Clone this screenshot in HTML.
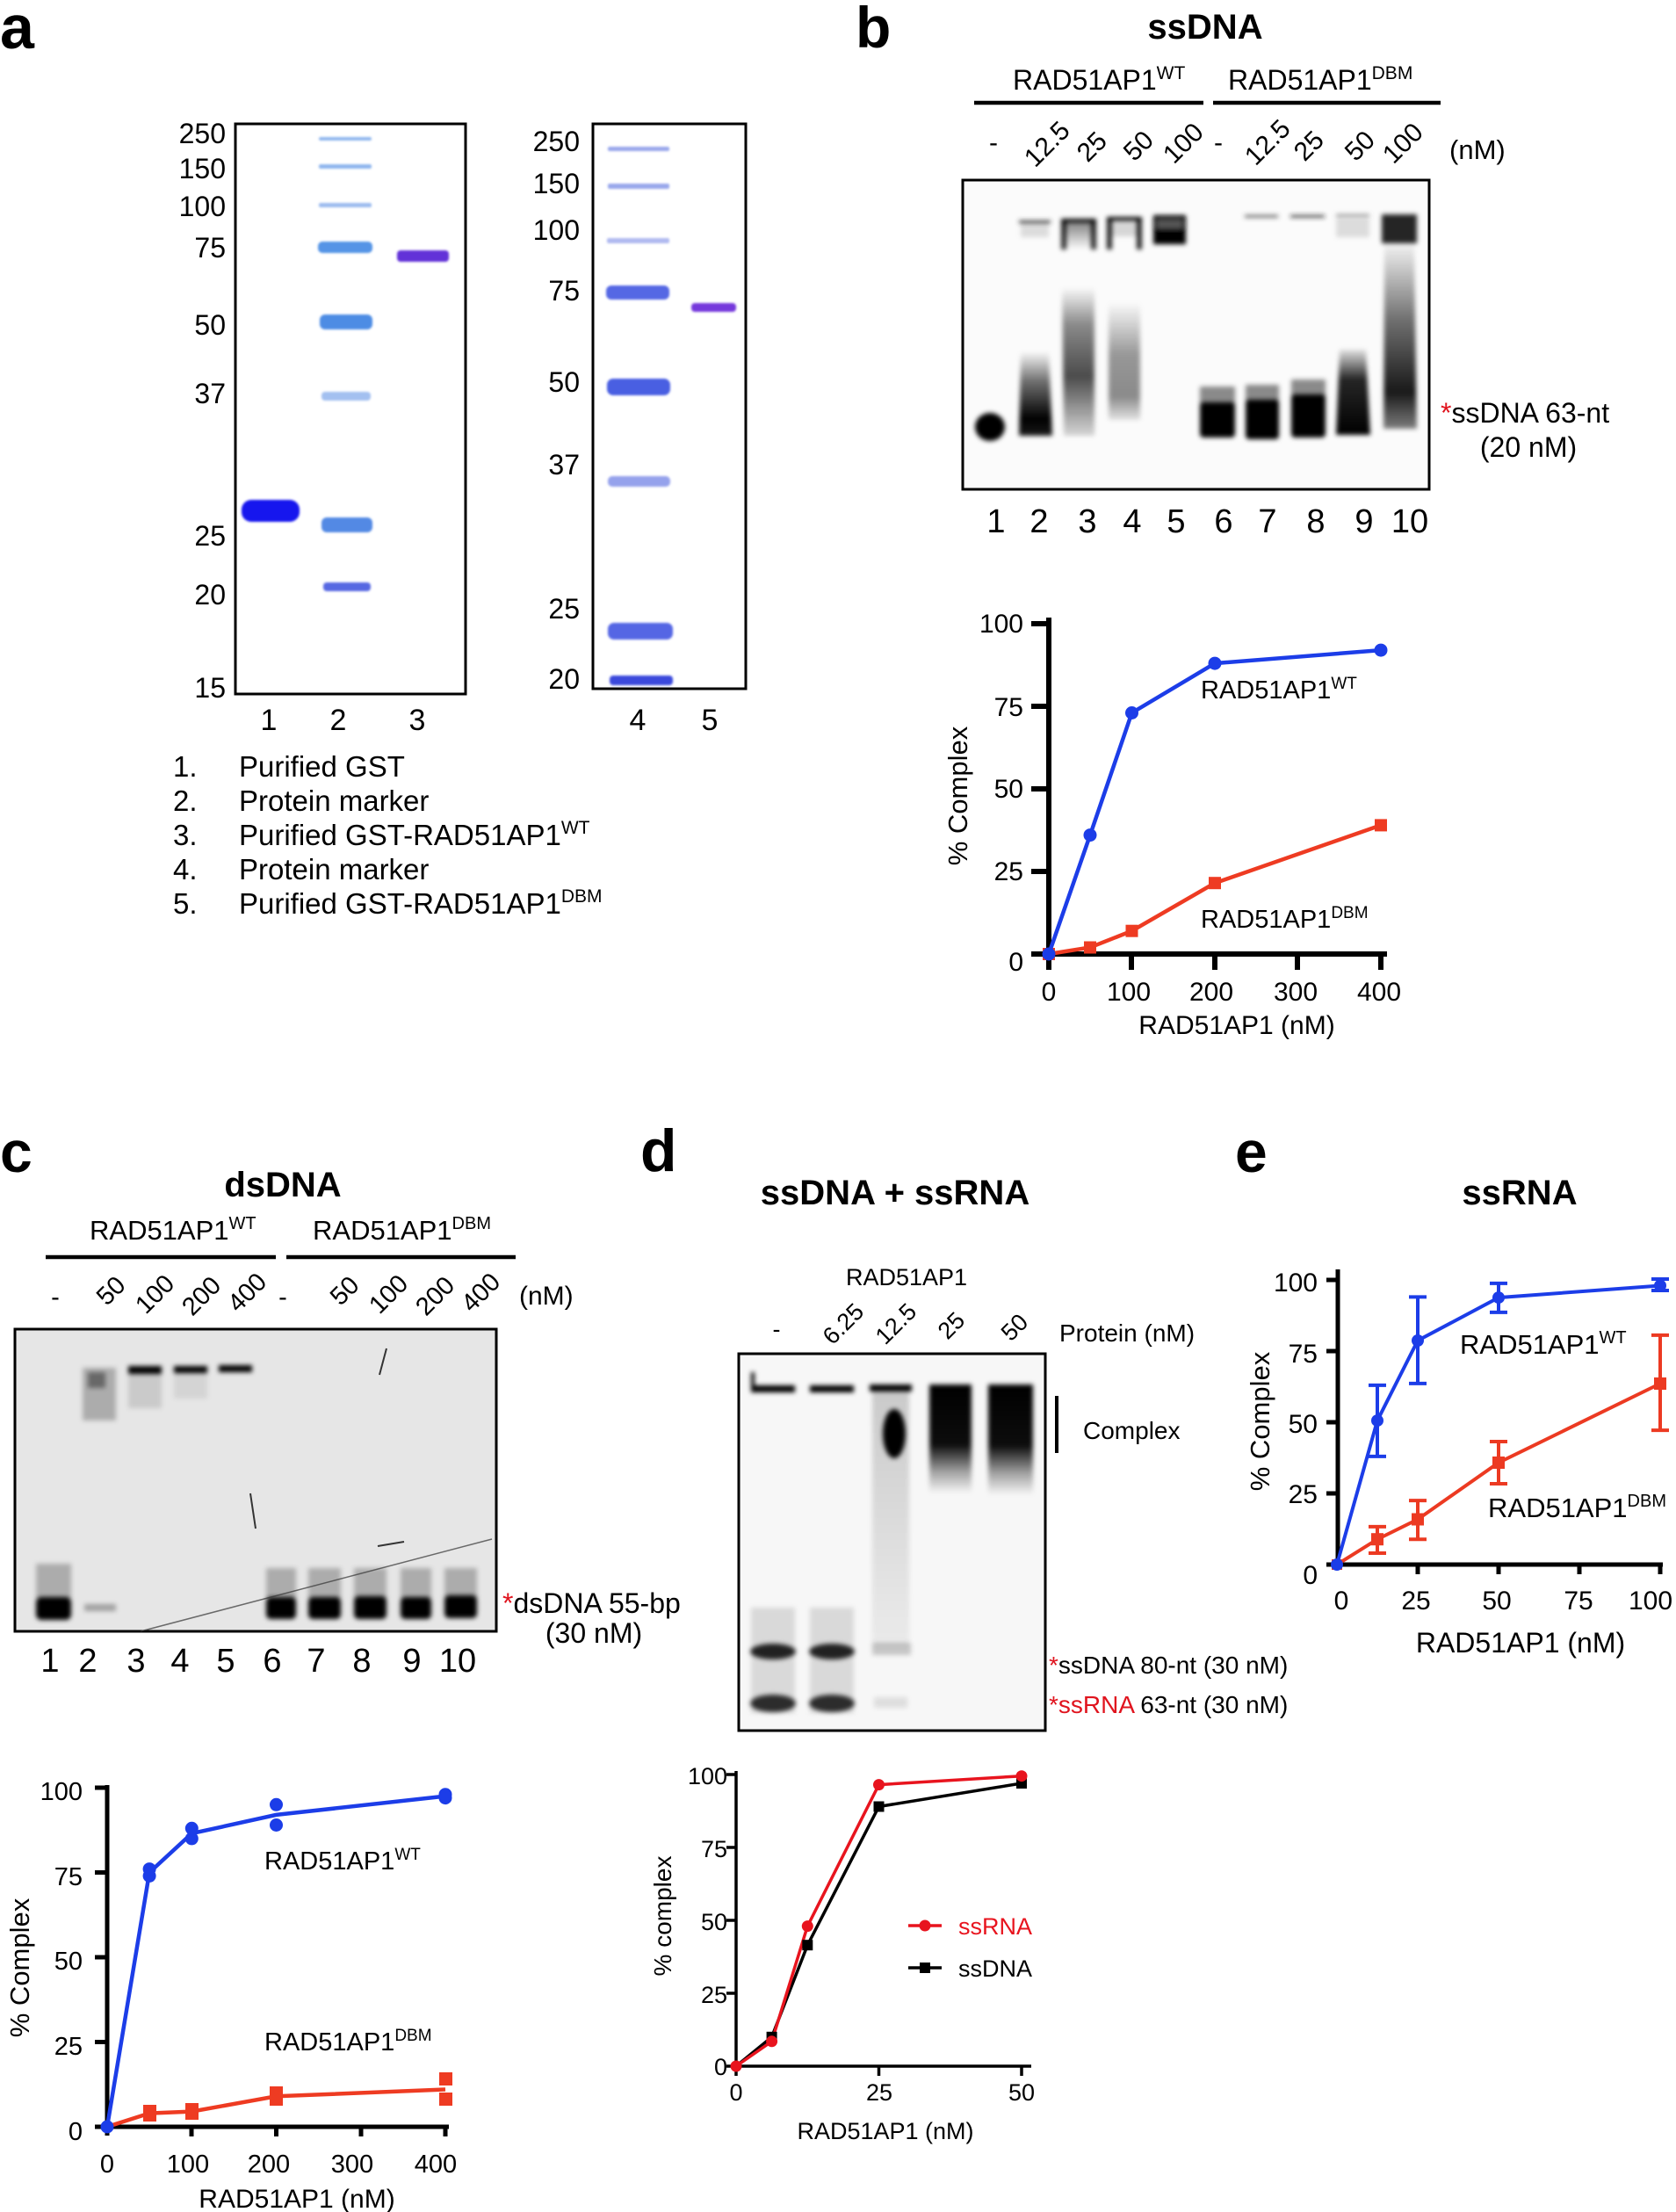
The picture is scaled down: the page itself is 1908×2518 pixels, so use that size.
<!DOCTYPE html>
<html><head><meta charset="utf-8">
<style>
html,body{margin:0;padding:0;background:#fff;}
svg{display:block}
text{font-family:"Liberation Sans",Arial,sans-serif;fill:#000;}
.b{font-weight:bold}
</style></head><body>
<svg width="1908" height="2518" viewBox="0 0 1908 2518" xmlns="http://www.w3.org/2000/svg">
<defs>
<filter id="f1" x="-30%" y="-80%" width="160%" height="260%"><feGaussianBlur stdDeviation="1.4"/></filter>
<filter id="f2" x="-30%" y="-80%" width="160%" height="260%"><feGaussianBlur stdDeviation="2.6"/></filter>
<filter id="f4" x="-50%" y="-50%" width="200%" height="200%"><feGaussianBlur stdDeviation="4"/></filter>
<linearGradient id="gL2" x1="0" y1="0" x2="0" y2="1"><stop offset="0" stop-color="#000" stop-opacity="0"/><stop offset="0.35" stop-color="#000" stop-opacity="0.55"/><stop offset="0.8" stop-color="#000" stop-opacity="1"/><stop offset="1" stop-color="#000" stop-opacity="0.9"/></linearGradient>
<linearGradient id="gL3" x1="0" y1="0" x2="0" y2="1"><stop offset="0" stop-color="#000" stop-opacity="0"/><stop offset="0.25" stop-color="#000" stop-opacity="0.45"/><stop offset="0.6" stop-color="#000" stop-opacity="0.7"/><stop offset="1" stop-color="#000" stop-opacity="0.15"/></linearGradient>
<linearGradient id="gL4" x1="0" y1="0" x2="0" y2="1"><stop offset="0" stop-color="#000" stop-opacity="0"/><stop offset="0.45" stop-color="#000" stop-opacity="0.4"/><stop offset="0.8" stop-color="#000" stop-opacity="0.45"/><stop offset="1" stop-color="#000" stop-opacity="0.1"/></linearGradient>
<linearGradient id="gL9" x1="0" y1="0" x2="0" y2="1"><stop offset="0" stop-color="#000" stop-opacity="0.1"/><stop offset="0.35" stop-color="#000" stop-opacity="0.85"/><stop offset="1" stop-color="#000" stop-opacity="1"/></linearGradient>
<linearGradient id="gL10" x1="0" y1="0" x2="0" y2="1"><stop offset="0" stop-color="#000" stop-opacity="0.05"/><stop offset="0.4" stop-color="#000" stop-opacity="0.55"/><stop offset="0.8" stop-color="#000" stop-opacity="0.9"/><stop offset="1" stop-color="#000" stop-opacity="0.5"/></linearGradient>
<linearGradient id="gTop" x1="0" y1="0" x2="0" y2="1"><stop offset="0" stop-color="#000" stop-opacity="0"/><stop offset="1" stop-color="#000" stop-opacity="0.5"/></linearGradient>
<linearGradient id="gCx" x1="0" y1="0" x2="0" y2="1"><stop offset="0" stop-color="#000" stop-opacity="1"/><stop offset="0.55" stop-color="#000" stop-opacity="0.95"/><stop offset="0.8" stop-color="#000" stop-opacity="0.35"/><stop offset="1" stop-color="#000" stop-opacity="0"/></linearGradient>
<linearGradient id="gSm" x1="0" y1="0" x2="0" y2="1"><stop offset="0" stop-color="#000" stop-opacity="0.18"/><stop offset="1" stop-color="#000" stop-opacity="0.05"/></linearGradient>
</defs>

<!-- ================= PANEL A ================= -->
<text x="0" y="55" font-size="70" class="b">a</text>
<rect x="268" y="141" width="262" height="649" fill="#fff" stroke="#000" stroke-width="3"/>
<rect x="675" y="141" width="174" height="643" fill="#fff" stroke="#000" stroke-width="3"/>
<g font-size="32" text-anchor="end">
<text x="257" y="163">250</text><text x="257" y="203">150</text><text x="257" y="246">100</text>
<text x="257" y="293">75</text><text x="257" y="381">50</text><text x="257" y="459">37</text>
<text x="257" y="621">25</text><text x="257" y="688">20</text><text x="257" y="794">15</text>
<text x="660" y="172">250</text><text x="660" y="220">150</text><text x="660" y="273">100</text>
<text x="660" y="342">75</text><text x="660" y="446">50</text><text x="660" y="540">37</text>
<text x="660" y="704">25</text><text x="660" y="784">20</text>
</g>
<g filter="url(#f1)">
<rect x="363" y="156" width="60" height="4" rx="2" fill="#8fb6ee"/>
<rect x="363" y="187" width="60" height="5" rx="2" fill="#8fb6ee"/>
<rect x="363" y="231" width="60" height="5" rx="2" fill="#9dbcef"/>
<rect x="362" y="275" width="62" height="13" rx="5" fill="#5594e6"/>
<rect x="364" y="358" width="60" height="17" rx="6" fill="#4e8ce4"/>
<rect x="366" y="446" width="56" height="10" rx="4" fill="#a3c0f0"/>
<rect x="366" y="589" width="58" height="17" rx="6" fill="#5289e4"/>
<rect x="368" y="663" width="54" height="10" rx="4" fill="#5668e2"/>
<rect x="275" y="569" width="66" height="25" rx="11" fill="#1414ee"/>
<rect x="452" y="285" width="59" height="13" rx="4" fill="#6232d8"/>
<rect x="692" y="167" width="70" height="5" rx="2" fill="#9aa8ec"/>
<rect x="692" y="209" width="70" height="6" rx="2" fill="#9aa8ec"/>
<rect x="691" y="271" width="71" height="6" rx="2" fill="#b0baf0"/>
<rect x="690" y="325" width="72" height="16" rx="6" fill="#5468e4"/>
<rect x="691" y="431" width="72" height="19" rx="7" fill="#4a5ee2"/>
<rect x="692" y="542" width="71" height="12" rx="5" fill="#95a2ec"/>
<rect x="692" y="709" width="74" height="19" rx="7" fill="#5466e4"/>
<rect x="694" y="769" width="72" height="11" rx="4" fill="#3a48dc"/>
<rect x="787" y="345" width="51" height="10" rx="4" fill="#7438dc"/>
</g>
<g font-size="34" text-anchor="middle">
<text x="306" y="831">1</text><text x="385" y="831">2</text><text x="475" y="831">3</text>
<text x="726" y="831">4</text><text x="808" y="831">5</text>
</g>
<g font-size="33">
<text x="197" y="884">1.</text><text x="272" y="884">Purified GST</text>
<text x="197" y="923">2.</text><text x="272" y="923">Protein marker</text>
<text x="197" y="962">3.</text><text x="272" y="962">Purified GST-RAD51AP1<tspan font-size="21" dy="-13">WT</tspan></text>
<text x="197" y="1001">4.</text><text x="272" y="1001">Protein marker</text>
<text x="197" y="1040">5.</text><text x="272" y="1040">Purified GST-RAD51AP1<tspan font-size="21" dy="-13">DBM</tspan></text>
</g>

<!-- ================= PANEL B ================= -->
<text x="974" y="54" font-size="66" class="b">b</text>
<text x="1372" y="44" font-size="40" class="b" text-anchor="middle">ssDNA</text>
<text x="1153" y="102" font-size="32">RAD51AP1<tspan font-size="21" dy="-12">WT</tspan></text>
<text x="1398" y="102" font-size="32">RAD51AP1<tspan font-size="21" dy="-12">DBM</tspan></text>
<line x1="1109" y1="117" x2="1370" y2="117" stroke="#000" stroke-width="4.5"/>
<line x1="1381" y1="117" x2="1640" y2="117" stroke="#000" stroke-width="4.5"/>
<g font-size="30" text-anchor="middle">
<text x="1131" y="172">-</text>
<text transform="translate(1192,164) rotate(-45)" dy="10">12.5</text>
<text transform="translate(1243,167) rotate(-45)" dy="10">25</text>
<text transform="translate(1296,166) rotate(-45)" dy="10">50</text>
<text transform="translate(1347,163) rotate(-45)" dy="10">100</text>
<text x="1387" y="172">-</text>
<text transform="translate(1443,162) rotate(-45)" dy="10">12.5</text>
<text transform="translate(1490,166) rotate(-45)" dy="10">25</text>
<text transform="translate(1548,166) rotate(-45)" dy="10">50</text>
<text transform="translate(1597,163) rotate(-45)" dy="10">100</text>
</g>
<text x="1650" y="181" font-size="31">(nM)</text>
<rect x="1096" y="205" width="531" height="352" fill="#fbfbfb" stroke="#000" stroke-width="3"/>
<g filter="url(#f2)">
<ellipse cx="1127" cy="486" rx="17" ry="16" fill="#000"/>
<rect x="1160" y="251" width="36" height="3" fill="#333"/>
<rect x="1162" y="254" width="32" height="16" fill="#000" opacity="0.12"/>
<path d="M1162 400 L1194 400 L1198 496 L1160 496 Z" fill="url(#gL2)"/>
<rect x="1208" y="249" width="40" height="4" fill="#000"/>
<rect x="1208" y="252" width="40" height="32" fill="url(#gTop)" transform="rotate(180 1228 268)"/>
<rect x="1208" y="252" width="6" height="32" fill="#000" opacity="0.8"/>
<rect x="1242" y="252" width="6" height="32" fill="#000" opacity="0.8"/>
<path d="M1209 327 L1246 327 L1246 496 L1211 496 Z" fill="url(#gL3)"/>
<rect x="1260" y="247" width="40" height="4" fill="#000"/>
<rect x="1260" y="250" width="6" height="34" fill="#000" opacity="0.85"/>
<rect x="1294" y="250" width="6" height="34" fill="#000" opacity="0.85"/>
<rect x="1262" y="251" width="36" height="18" fill="#000" opacity="0.15"/>
<path d="M1262 344 L1298 344 L1298 478 L1262 478 Z" fill="url(#gL4)"/>
<rect x="1313" y="245" width="37" height="33" fill="#000"/>
<rect x="1317" y="250" width="29" height="10" fill="#555"/>
<rect x="1366" y="458" width="40" height="40" rx="4" fill="#000"/>
<rect x="1366" y="440" width="40" height="22" fill="#000" opacity="0.45"/>
<rect x="1417" y="245" width="38" height="2.5" fill="#444"/>
<rect x="1418" y="455" width="38" height="45" rx="4" fill="#000"/>
<rect x="1418" y="438" width="38" height="22" fill="#000" opacity="0.45"/>
<rect x="1469" y="245" width="39" height="2.5" fill="#222"/>
<rect x="1470" y="449" width="39" height="49" rx="4" fill="#000"/>
<rect x="1470" y="432" width="39" height="22" fill="#000" opacity="0.45"/>
<rect x="1521" y="245" width="38" height="25" fill="#000" opacity="0.12"/>
<rect x="1521" y="244" width="38" height="2" fill="#777"/>
<path d="M1525 398 L1555 398 L1560 495 L1521 495 Z" fill="url(#gL9)"/>
<rect x="1573" y="244" width="40" height="33" fill="#000" opacity="0.85"/>
<path d="M1576 280 L1610 280 L1613 488 L1575 488 Z" fill="url(#gL10)"/>
</g>
<g font-size="38" text-anchor="middle">
<text x="1134" y="606">1</text><text x="1183" y="606">2</text><text x="1238" y="606">3</text><text x="1289" y="606">4</text><text x="1339" y="606">5</text>
<text x="1393" y="606">6</text><text x="1443" y="606">7</text><text x="1498" y="606">8</text><text x="1553" y="606">9</text><text x="1605" y="606">10</text>
</g>
<text x="1640" y="481" font-size="32"><tspan fill="#e0141e">*</tspan>ssDNA 63-nt</text>
<text x="1740" y="520" font-size="32" text-anchor="middle">(20 nM)</text>

<!-- chart b -->
<g stroke="#000" stroke-width="6" fill="none">
<line x1="1194" y1="703" x2="1194" y2="1104"/>
<line x1="1191" y1="1086" x2="1579" y2="1086"/>
<line x1="1174" y1="710" x2="1194" y2="710"/><line x1="1174" y1="804" x2="1194" y2="804"/>
<line x1="1174" y1="898" x2="1194" y2="898"/><line x1="1174" y1="992" x2="1194" y2="992"/>
<line x1="1174" y1="1086" x2="1194" y2="1086"/>
<line x1="1288" y1="1086" x2="1288" y2="1104"/><line x1="1383" y1="1086" x2="1383" y2="1104"/>
<line x1="1477" y1="1086" x2="1477" y2="1104"/><line x1="1572" y1="1086" x2="1572" y2="1104"/>
</g>
<g font-size="30" text-anchor="end">
<text x="1165" y="720">100</text><text x="1165" y="815">75</text><text x="1165" y="908">50</text>
<text x="1165" y="1002">25</text><text x="1165" y="1105">0</text>
</g>
<g font-size="30" text-anchor="middle">
<text x="1194" y="1139">0</text><text x="1285" y="1139">100</text><text x="1379" y="1139">200</text>
<text x="1475" y="1139">300</text><text x="1570" y="1139">400</text>
</g>
<text transform="translate(1101,906) rotate(-90)" font-size="31" text-anchor="middle">% Complex</text>
<text x="1408" y="1177" font-size="30" text-anchor="middle">RAD51AP1 (nM)</text>
<polyline points="1194,1086 1241,1078.5 1288.5,1059.7 1383,1005.2 1572,939.4" fill="none" stroke="#ee3b22" stroke-width="4.5"/>
<g fill="#ee3b22">
<rect x="1234" y="1071.5" width="14" height="14"/><rect x="1281.5" y="1052.7" width="14" height="14"/>
<rect x="1376" y="998.2" width="14" height="14"/><rect x="1565" y="932.4" width="14" height="14"/>
<rect x="1187" y="1079" width="14" height="14"/>
</g>
<polyline points="1194,1086 1241,950.6 1288.5,811.5 1383,755.1 1572,740.1" fill="none" stroke="#1c3de8" stroke-width="4.5"/>
<g fill="#1c3de8">
<circle cx="1194" cy="1086" r="7.5"/><circle cx="1241" cy="950.6" r="7.5"/><circle cx="1288.5" cy="811.5" r="7.5"/>
<circle cx="1383" cy="755.1" r="7.5"/><circle cx="1572" cy="740.1" r="7.5"/>
</g>
<text x="1367" y="795" font-size="29">RAD51AP1<tspan font-size="19" dy="-11">WT</tspan></text>
<text x="1367" y="1056" font-size="29">RAD51AP1<tspan font-size="19" dy="-11">DBM</tspan></text>

<!-- ================= PANEL C ================= -->
<text x="0" y="1334" font-size="66" class="b">c</text>
<text x="322" y="1362" font-size="40" class="b" text-anchor="middle">dsDNA</text>
<text x="102" y="1411" font-size="31">RAD51AP1<tspan font-size="20" dy="-12">WT</tspan></text>
<text x="356" y="1411" font-size="31">RAD51AP1<tspan font-size="20" dy="-12">DBM</tspan></text>
<line x1="52" y1="1431" x2="314" y2="1431" stroke="#000" stroke-width="4.5"/>
<line x1="326" y1="1431" x2="587" y2="1431" stroke="#000" stroke-width="4.5"/>
<g font-size="29" text-anchor="middle">
<text x="63" y="1486">-</text>
<text transform="translate(126,1469) rotate(-45)" dy="10">50</text>
<text transform="translate(176,1473) rotate(-45)" dy="10">100</text>
<text transform="translate(229,1475) rotate(-45)" dy="10">200</text>
<text transform="translate(281,1471) rotate(-45)" dy="10">400</text>
<text x="322" y="1486">-</text>
<text transform="translate(392,1469) rotate(-45)" dy="10">50</text>
<text transform="translate(442,1473) rotate(-45)" dy="10">100</text>
<text transform="translate(495,1475) rotate(-45)" dy="10">200</text>
<text transform="translate(547,1471) rotate(-45)" dy="10">400</text>
</g>
<text x="591" y="1485" font-size="30">(nM)</text>
<rect x="17" y="1513" width="548" height="344" fill="#e6e6e6" stroke="#000" stroke-width="3"/>
<g filter="url(#f2)">
<rect x="41" y="1818" width="40" height="26" rx="6" fill="#000"/>
<rect x="41" y="1780" width="40" height="40" fill="#000" opacity="0.25"/>
<rect x="96" y="1826" width="36" height="8" fill="#000" opacity="0.3"/>
<rect x="94" y="1557" width="38" height="60" fill="#000" opacity="0.25"/>
<rect x="100" y="1562" width="20" height="18" fill="#000" opacity="0.4"/>
<rect x="146" y="1555" width="38" height="9" fill="#000"/>
<rect x="146" y="1563" width="38" height="40" fill="#000" opacity="0.12"/>
<rect x="198" y="1555" width="38" height="8" fill="#000"/>
<rect x="198" y="1562" width="38" height="30" fill="#000" opacity="0.08"/>
<rect x="249" y="1554" width="38" height="8" fill="#000"/>
<rect x="303" y="1818" width="34" height="25" rx="5" fill="#000"/>
<rect x="303" y="1785" width="34" height="35" fill="#000" opacity="0.25"/>
<rect x="351" y="1818" width="37" height="25" rx="5" fill="#000"/>
<rect x="351" y="1785" width="37" height="35" fill="#000" opacity="0.25"/>
<rect x="403" y="1817" width="37" height="26" rx="5" fill="#000"/>
<rect x="403" y="1785" width="37" height="35" fill="#000" opacity="0.25"/>
<rect x="456" y="1818" width="35" height="25" rx="5" fill="#000"/>
<rect x="456" y="1785" width="35" height="35" fill="#000" opacity="0.25"/>
<rect x="506" y="1816" width="37" height="26" rx="5" fill="#000"/>
<rect x="506" y="1785" width="37" height="35" fill="#000" opacity="0.25"/>
</g>
<g stroke="#333" fill="none">
<line x1="160" y1="1857" x2="560" y2="1752" stroke-width="1.5" opacity="0.7"/>
<line x1="285" y1="1700" x2="291" y2="1740" stroke-width="2"/>
<line x1="440" y1="1535" x2="432" y2="1565" stroke-width="2"/>
<line x1="430" y1="1760" x2="460" y2="1755" stroke-width="2"/>
</g>
<g font-size="38" text-anchor="middle">
<text x="57" y="1903">1</text><text x="100" y="1903">2</text><text x="155" y="1903">3</text><text x="205" y="1903">4</text><text x="257" y="1903">5</text>
<text x="310" y="1903">6</text><text x="360" y="1903">7</text><text x="412" y="1903">8</text><text x="469" y="1903">9</text><text x="521" y="1903">10</text>
</g>
<text x="572" y="1836" font-size="32"><tspan fill="#e0141e">*</tspan>dsDNA 55-bp</text>
<text x="676" y="1870" font-size="32" text-anchor="middle">(30 nM)</text>

<!-- chart c -->
<g stroke="#000" stroke-width="5" fill="none">
<line x1="122" y1="2032" x2="122" y2="2431"/>
<line x1="120" y1="2421" x2="511" y2="2421"/>
<line x1="108" y1="2035" x2="122" y2="2035"/><line x1="108" y1="2131.5" x2="122" y2="2131.5"/>
<line x1="108" y1="2228" x2="122" y2="2228"/><line x1="108" y1="2324.5" x2="122" y2="2324.5"/>
<line x1="108" y1="2421" x2="122" y2="2421"/>
<line x1="218" y1="2421" x2="218" y2="2432"/><line x1="314.5" y1="2421" x2="314.5" y2="2432"/>
<line x1="411" y1="2421" x2="411" y2="2432"/><line x1="507" y1="2421" x2="507" y2="2432"/>
</g>
<g font-size="29" text-anchor="end">
<text x="94" y="2049">100</text><text x="94" y="2146">75</text><text x="94" y="2242">50</text>
<text x="94" y="2339">25</text><text x="94" y="2436">0</text>
</g>
<g font-size="29" text-anchor="middle">
<text x="122" y="2473">0</text><text x="214" y="2473">100</text><text x="306" y="2473">200</text>
<text x="401" y="2473">300</text><text x="496" y="2473">400</text>
</g>
<text transform="translate(33,2240) rotate(-90)" font-size="31" text-anchor="middle">% Complex</text>
<text x="338" y="2513" font-size="30" text-anchor="middle">RAD51AP1 (nM)</text>
<polyline points="122,2421 170.1,2405.6 218.3,2403.6 314.5,2386.3 507,2378.5" fill="none" stroke="#ee3b22" stroke-width="4.5"/>
<g fill="#ee3b22">
<rect x="163" y="2400" width="15" height="15"/><rect x="163" y="2396" width="15" height="15"/>
<rect x="211" y="2394" width="15" height="15"/><rect x="211" y="2398" width="15" height="15"/>
<rect x="307" y="2382" width="15" height="15"/><rect x="307" y="2375" width="15" height="15"/>
<rect x="500" y="2359" width="15" height="15"/><rect x="500" y="2382" width="15" height="15"/>
</g>
<polyline points="122,2421 170.1,2131.5 218.3,2087.1 314.5,2065.9 507,2044.6" fill="none" stroke="#1c3de8" stroke-width="4.5"/>
<g fill="#1c3de8">
<circle cx="122" cy="2421" r="7.5"/>
<circle cx="170.1" cy="2135.4" r="7.5"/><circle cx="170.1" cy="2127.6" r="7.5"/>
<circle cx="218.3" cy="2092.9" r="7.5"/><circle cx="218.3" cy="2081.3" r="7.5"/>
<circle cx="314.5" cy="2077.5" r="7.5"/><circle cx="314.5" cy="2054.3" r="7.5"/>
<circle cx="507" cy="2046.6" r="7.5"/><circle cx="507" cy="2042.7" r="7.5"/>
</g>
<text x="301" y="2128" font-size="29">RAD51AP1<tspan font-size="19" dy="-11">WT</tspan></text>
<text x="301" y="2334" font-size="29">RAD51AP1<tspan font-size="19" dy="-11">DBM</tspan></text>

<!-- ================= PANEL D ================= -->
<text x="729" y="1333" font-size="68" class="b">d</text>
<text x="1019" y="1371" font-size="40" class="b" text-anchor="middle">ssDNA + ssRNA</text>
<text x="1032" y="1463" font-size="27" text-anchor="middle">RAD51AP1</text>
<g font-size="27" text-anchor="middle">
<text x="884" y="1522">-</text>
<text transform="translate(960,1507) rotate(-45)" dy="9">6.25</text>
<text transform="translate(1020,1507) rotate(-45)" dy="9">12.5</text>
<text transform="translate(1083,1509) rotate(-45)" dy="9">25</text>
<text transform="translate(1155,1511) rotate(-45)" dy="9">50</text>
</g>
<text x="1206" y="1527" font-size="28">Protein (nM)</text>
<rect x="841" y="1541" width="349" height="429" fill="#f7f7f7" stroke="#000" stroke-width="3"/>
<g filter="url(#f2)">
<rect x="855" y="1577" width="50" height="8" fill="#000"/>
<rect x="855" y="1562" width="4" height="18" fill="#000"/>
<rect x="922" y="1577" width="50" height="8" fill="#000"/>
<rect x="990" y="1576" width="48" height="8" fill="#000"/>
<rect x="993" y="1584" width="42" height="290" fill="url(#gSm)"/>
<ellipse cx="1018" cy="1632" rx="13" ry="28" fill="#000"/>
<path d="M1058 1576 L1106 1576 L1106 1700 L1058 1700 Z" fill="url(#gCx)"/>
<path d="M1125 1576 L1176 1576 L1176 1702 L1125 1702 Z" fill="url(#gCx)"/>
<rect x="855" y="1830" width="50" height="120" fill="#000" opacity="0.12"/>
<rect x="922" y="1830" width="50" height="120" fill="#000" opacity="0.12"/>
<ellipse cx="880" cy="1880" rx="26" ry="9" fill="#000" opacity="0.85"/>
<ellipse cx="947" cy="1880" rx="26" ry="9" fill="#000" opacity="0.85"/>
<ellipse cx="880" cy="1939" rx="26" ry="10" fill="#000" opacity="0.8"/>
<ellipse cx="947" cy="1939" rx="26" ry="10" fill="#000" opacity="0.8"/>
<rect x="993" y="1870" width="44" height="14" fill="#000" opacity="0.2"/>
<rect x="995" y="1932" width="38" height="12" fill="#000" opacity="0.1"/>
</g>
<line x1="1203" y1="1589" x2="1203" y2="1654" stroke="#000" stroke-width="4"/>
<text x="1233" y="1638" font-size="28">Complex</text>
<text x="1194" y="1905" font-size="28"><tspan fill="#e0141e">*</tspan>ssDNA 80-nt (30 nM)</text>
<text x="1194" y="1950" font-size="28"><tspan fill="#e0141e">*ssRNA</tspan> 63-nt (30 nM)</text>

<!-- chart d -->
<g stroke="#000" stroke-width="3.5" fill="none">
<line x1="838" y1="2016" x2="838" y2="2363"/>
<line x1="836" y1="2352" x2="1174" y2="2352"/>
<line x1="827" y1="2020" x2="838" y2="2020"/><line x1="827" y1="2103" x2="838" y2="2103"/>
<line x1="827" y1="2186" x2="838" y2="2186"/><line x1="827" y1="2269" x2="838" y2="2269"/>
<line x1="827" y1="2352" x2="838" y2="2352"/>
<line x1="1000.5" y1="2352" x2="1000.5" y2="2363"/><line x1="1163" y1="2352" x2="1163" y2="2363"/>
</g>
<g font-size="27" text-anchor="end">
<text x="828" y="2031">100</text><text x="828" y="2114">75</text><text x="828" y="2197">50</text>
<text x="828" y="2280">25</text><text x="828" y="2362">0</text>
</g>
<g font-size="27" text-anchor="middle">
<text x="838" y="2391">0</text><text x="1001" y="2391">25</text><text x="1163" y="2391">50</text>
</g>
<text transform="translate(764,2181) rotate(-90)" font-size="28" text-anchor="middle">%  complex</text>
<text x="1008" y="2435" font-size="27" text-anchor="middle">RAD51AP1 (nM)</text>
<polyline points="838,2352 878.6,2318.8 919.3,2214.2 1000.5,2056.5 1163,2030" fill="none" stroke="#000" stroke-width="3.5"/>
<polyline points="838,2352 878.6,2323.8 919.3,2192.6 1000.5,2031.6 1163,2021.7" fill="none" stroke="#e8141e" stroke-width="3.5"/>
<g fill="#000">
<rect x="872.6" y="2312.8" width="12" height="12"/><rect x="913.3" y="2208.2" width="12" height="12"/>
<rect x="994.5" y="2050.5" width="12" height="12"/><rect x="1157" y="2024" width="12" height="12"/>
</g>
<g fill="#e8141e">
<circle cx="838" cy="2352" r="6.5"/><circle cx="878.6" cy="2323.8" r="6.5"/><circle cx="919.3" cy="2192.6" r="6.5"/>
<circle cx="1000.5" cy="2031.6" r="6.5"/><circle cx="1163" cy="2021.7" r="6.5"/>
</g>
<line x1="1034" y1="2192" x2="1072" y2="2192" stroke="#e8141e" stroke-width="3.5"/>
<circle cx="1053" cy="2192" r="6.5" fill="#e8141e"/>
<text x="1091" y="2202" font-size="27" style="fill:#e8141e">ssRNA</text>
<line x1="1034" y1="2240" x2="1072" y2="2240" stroke="#000" stroke-width="3.5"/>
<rect x="1047" y="2234" width="12" height="12" fill="#000"/>
<text x="1091" y="2250" font-size="27">ssDNA</text>

<!-- ================= PANEL E ================= -->
<text x="1406" y="1334" font-size="66" class="b">e</text>
<text x="1730" y="1371" font-size="40" class="b" text-anchor="middle">ssRNA</text>
<g stroke="#000" stroke-width="5" fill="none">
<line x1="1523" y1="1445" x2="1523" y2="1783"/>
<line x1="1521" y1="1781" x2="1893" y2="1781"/>
<line x1="1510" y1="1457" x2="1523" y2="1457"/><line x1="1510" y1="1538" x2="1523" y2="1538"/>
<line x1="1510" y1="1619" x2="1523" y2="1619"/><line x1="1510" y1="1700" x2="1523" y2="1700"/>
<line x1="1510" y1="1781" x2="1523" y2="1781"/>
<line x1="1614" y1="1781" x2="1614" y2="1792"/><line x1="1706" y1="1781" x2="1706" y2="1792"/>
<line x1="1798" y1="1781" x2="1798" y2="1792"/><line x1="1890" y1="1781" x2="1890" y2="1792"/>
</g>
<g font-size="30" text-anchor="end">
<text x="1500" y="1470">100</text><text x="1500" y="1551">75</text><text x="1500" y="1631">50</text>
<text x="1500" y="1711">25</text><text x="1500" y="1803">0</text>
</g>
<g font-size="30" text-anchor="middle">
<text x="1527" y="1832">0</text><text x="1612" y="1832">25</text><text x="1704" y="1832">50</text>
<text x="1797" y="1832">75</text><text x="1879" y="1832">100</text>
</g>
<text transform="translate(1445,1618) rotate(-90)" font-size="31" text-anchor="middle">% Complex</text>
<text x="1731" y="1881" font-size="32" text-anchor="middle">RAD51AP1 (nM)</text>
<g stroke="#ec3a22" stroke-width="4" fill="none">
<polyline points="1522,1781 1568,1752.2 1614,1729.5 1706,1665 1890,1575"/>
<line x1="1568" y1="1737.9" x2="1568" y2="1768"/><line x1="1558" y1="1737.9" x2="1578" y2="1737.9"/><line x1="1558" y1="1768" x2="1578" y2="1768"/>
<line x1="1614" y1="1708.1" x2="1614" y2="1752.2"/><line x1="1604" y1="1708.1" x2="1624" y2="1708.1"/><line x1="1604" y1="1752.2" x2="1624" y2="1752.2"/>
<line x1="1706" y1="1641" x2="1706" y2="1689"/><line x1="1696" y1="1641" x2="1716" y2="1641"/><line x1="1696" y1="1689" x2="1716" y2="1689"/>
<line x1="1890" y1="1519.9" x2="1890" y2="1628.1"/><line x1="1880" y1="1519.9" x2="1900" y2="1519.9"/><line x1="1880" y1="1628.1" x2="1900" y2="1628.1"/>
</g>
<g fill="#ec3a22">
<rect x="1516" y="1775" width="12" height="12"/><rect x="1561" y="1745.2" width="14" height="14"/>
<rect x="1607" y="1722.5" width="14" height="14"/><rect x="1699" y="1658" width="14" height="14"/>
<rect x="1883" y="1568" width="14" height="14"/>
</g>
<g stroke="#1c3de8" stroke-width="4" fill="none">
<polyline points="1522,1781 1568,1617.1 1614,1526 1706,1477.1 1890,1463.5"/>
<line x1="1568" y1="1576.9" x2="1568" y2="1657.9"/><line x1="1558" y1="1576.9" x2="1578" y2="1576.9"/><line x1="1558" y1="1657.9" x2="1578" y2="1657.9"/>
<line x1="1614" y1="1476.4" x2="1614" y2="1574.9"/><line x1="1604" y1="1476.4" x2="1624" y2="1476.4"/><line x1="1604" y1="1574.9" x2="1624" y2="1574.9"/>
<line x1="1706" y1="1460.9" x2="1706" y2="1493.9"/><line x1="1696" y1="1460.9" x2="1716" y2="1460.9"/><line x1="1696" y1="1493.9" x2="1716" y2="1493.9"/>
<line x1="1890" y1="1456" x2="1890" y2="1469"/><line x1="1880" y1="1456" x2="1900" y2="1456"/><line x1="1880" y1="1469" x2="1900" y2="1469"/>
</g>
<g fill="#1c3de8">
<circle cx="1522" cy="1781" r="7"/><circle cx="1568" cy="1617.1" r="7"/><circle cx="1614" cy="1526" r="7"/>
<circle cx="1706" cy="1477.1" r="7"/><circle cx="1890" cy="1463.5" r="7"/>
</g>
<text x="1662" y="1541" font-size="31">RAD51AP1<tspan font-size="20" dy="-12">WT</tspan></text>
<text x="1694" y="1727" font-size="31">RAD51AP1<tspan font-size="20" dy="-12">DBM</tspan></text>
</svg>
</body></html>
